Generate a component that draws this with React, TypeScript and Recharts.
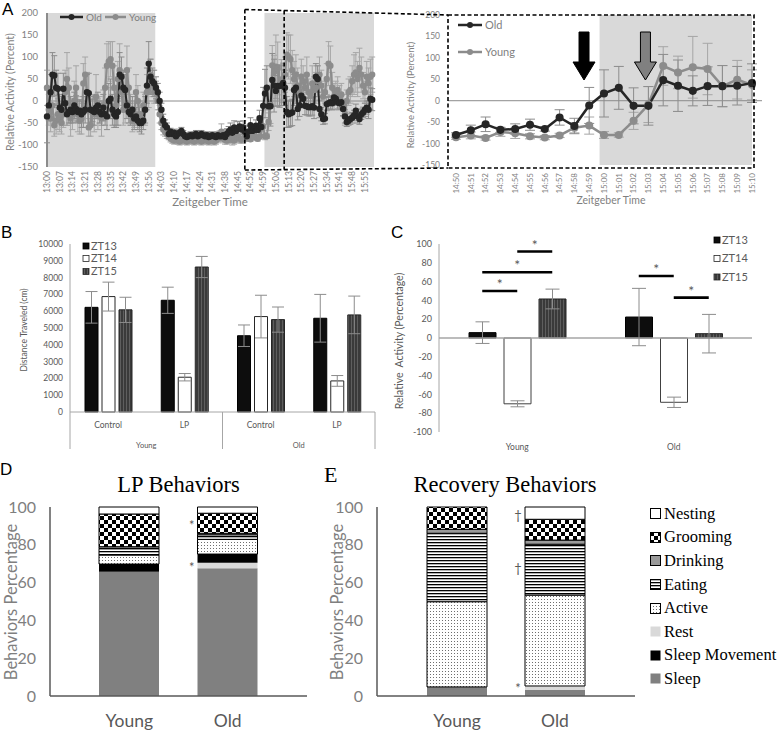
import React from "react";
import {
  LineChart,
  Line,
  BarChart,
  Bar,
  XAxis,
  YAxis,
  ErrorBar,
  ReferenceArea,
  ReferenceLine,
} from "recharts";

// ---------- A: relative activity, one point per minute from 13:00 ----------
const START_HOUR = 13;
const OLD_ACT = [
  -35, -10, 20, 60, 58, 30, 28, -15, -20, 28,
  -5, -30, -25, -20, -25, -10, -18, -25, -22, -30,
  -25, -20, 20, 18, -20, -22, -25, -15, -10, -25,
  -30, -15, -30, -35, 0, 5, -20, -30, -35, -25,
  60, 55, 30, 25, -10, -25, -30, -20, -40, -35,
  -45, -50, -50, -45, -20, 35, 85, 55, 45, 40,
  30, 20, 0, -20, -45, -55, -60, -75, -70, -75,
  -72, -80, -75, -72, -68, -75, -80, -82, -80, -78,
  -80, -78, -75, -80, -78, -75, -78, -80, -78, -82,
  -80, -78, -80, -82, -78, -80, -80, -78, -82, -75,
  -70, -65, -72, -60, -68, -62, -58, -65, -60, -70,
  -80, -69, -55, -68, -66, -56, -66, -39, -59, -11,
  17, 30, -12, -12, 48, 35, 23, 34, 34, 35,
  41, 30, -25, -30, -28, -26, 25, 30, -18, -10,
  12, 5, -11, -12, -14, -14, -12, -15, 55, 50,
  -18, -30, -41, -40, -7, -5, -3, -5, 8, 5,
  -3, -5, -3, -18, -35, -48, -45, -41, -38, -33,
  -22, -35, -41, -30, -26, -20, -15, -20, 5, 3,
];
const YOUNG_ACT = [
  30, -20, -40, -10, -55, -45, -30, -40, -50, -30,
  20, 50, 30, -40, -30, 0, 30, -30, -45, -40,
  40, 60, 20, -60, -55, -20, -30, 10, -30, -20,
  -40, -10, 30, 80, 90, 95, 80, 30, -10, 50,
  70, 20, -20, -10, 70, 30, -20, -45, -30, 20,
  0, -30, -40, -10, -20, 20, 30, 60, 40, 20,
  20, 0, -30, -50, -65, -70, -75, -80, -85, -88,
  -90, -88, -90, -92, -90, -88, -90, -92, -90, -88,
  -90, -92, -90, -88, -90, -92, -90, -88, -90, -92,
  -88, -90, -92, -90, -85, -80, -70, -80, -88, -90,
  -88, -85, -88, -90, -85, -80, -85, -88, -85, -82,
  -85, -81, -87, -73, -76, -83, -86, -81, -63, -58,
  -80, -80, -47, -9, 81, 66, 78, 74, 34, 49,
  37, 60, 105, 100, 95, 70, 50, 60, 35, 20,
  55, 45, 30, 60, 20, 15, 40, 25, 30, 45,
  60, 35, 10, 20, 50, 85, 80, 30, 10, 20,
  25, 10, 15, -10, -30, 0, 20, 25, 45, 60,
  65, 50, 75, 60, 35, 20, 55, 40, 55, 60,
];
const OLD_ERR = [
  60, 35, 40, 50, 45, 40, 35, 30, 30, 35,
  30, 25, 25, 30, 25, 30, 30, 25, 25, 30,
  35, 30, 40, 45, 30, 25, 30, 25, 30, 25,
  25, 30, 25, 30, 40, 45, 35, 30, 25, 30,
  50, 45, 40, 35, 30, 25, 25, 30, 25, 20,
  20, 20, 25, 20, 30, 40, 50, 40, 30, 30,
  25, 20, 20, 15, 15, 12, 10, 10, 8, 8,
  8, 8, 8, 8, 8, 8, 8, 8, 8, 8,
  8, 8, 8, 8, 8, 8, 8, 8, 8, 8,
  8, 8, 8, 8, 8, 8, 10, 10, 10, 12,
  12, 15, 12, 15, 12, 15, 12, 12, 15, 15,
  5, 12, 17, 6, 12, 13, 5, 18, 18, 42,
  55, 50, 42, 45, 60, 60, 35, 45, 48, 45,
  45, 40, 35, 30, 30, 30, 35, 35, 25, 25,
  25, 20, 20, 20, 20, 20, 20, 25, 30, 30,
  20, 15, 12, 12, 15, 15, 15, 15, 15, 15,
  15, 15, 15, 15, 15, 10, 10, 12, 12, 12,
  15, 15, 12, 12, 12, 15, 15, 20, 25, 25,
];
const YOUNG_ERR = [
  40, 35, 30, 40, 25, 30, 35, 30, 25, 30,
  50, 60, 45, 40, 35, 45, 50, 40, 30, 35,
  45, 40, 45, 20, 25, 35, 40, 50, 35, 30,
  40, 35, 45, 50, 45, 40, 55, 50, 45, 40,
  60, 45, 35, 40, 55, 45, 35, 25, 30, 40,
  35, 30, 25, 30, 35, 40, 45, 35, 30, 25,
  25, 20, 20, 15, 12, 10, 10, 8, 8, 8,
  8, 8, 8, 8, 8, 8, 8, 8, 8, 8,
  8, 8, 8, 8, 8, 8, 8, 8, 8, 8,
  8, 8, 8, 8, 10, 12, 18, 15, 10, 8,
  8, 10, 12, 8, 10, 12, 10, 8, 10, 10,
  5, 8, 5, 10, 12, 6, 5, 5, 12, 20,
  8, 5, 20, 42, 45, 38, 72, 60, 48, 45,
  35, 40, 50, 50, 55, 45, 40, 45, 40, 30,
  40, 35, 30, 40, 30, 25, 40, 30, 35, 35,
  40, 35, 30, 25, 35, 50, 45, 35, 30, 25,
  30, 25, 25, 25, 25, 25, 30, 30, 35, 45,
  45, 40, 45, 40, 30, 25, 35, 35, 40, 40,
];
const A_TICK_LABELS = [
  "13:00", "13:07", "13:14", "13:21", "13:28", "13:35", "13:42", "13:49", "13:56",
  "14:03", "14:10", "14:17", "14:24", "14:31", "14:38", "14:45", "14:52", "14:59",
  "15:06", "15:13", "15:20", "15:27", "15:34", "15:41", "15:48", "15:55",
];
const INSET_TICK_LABELS = [
  "14:50", "14:51", "14:52", "14:53", "14:54", "14:55", "14:56", "14:57", "14:58", "14:59",
  "15:00", "15:01", "15:02", "15:03", "15:04", "15:05", "15:06", "15:07", "15:08", "15:09", "15:10",
];
const A_Y_TICKS = [-150, -100, -50, 0, 50, 100, 150, 200];
const DARK_PERIODS = [["13:00", "13:59.6"], ["14:59.7", "16:00"]];
const ARROW_TIMES = ["14:58.65", "15:02.8"];

// ---------- B: distance travelled ----------
const B_COND = ["Control", "LP", "Control", "LP"];
const B_AGE = ["Young", "Young", "Old", "Old"];
const B_ZT13 = [6230, 6650, 4540, 5580];
const B_ZT13_ERR = [940, 780, 640, 1420];
const B_ZT14 = [6870, 2070, 5680, 1850];
const B_ZT14_ERR = [860, 220, 1270, 320];
const B_ZT15 = [6080, 8630, 5500, 5780];
const B_ZT15_ERR = [750, 630, 750, 1120];
const B_Y_TICKS = [0, 1000, 2000, 3000, 4000, 5000, 6000, 7000, 8000, 9000, 10000];

// ---------- C: relative activity ----------
const C_AGE = ["Young", "Old"];
const C_ZT13 = [5.7, 22.3];
const C_ZT13_ERR = [11.5, 30.5];
const C_ZT14 = [-70, -68.4];
const C_ZT14_ERR = [3.2, 5.5];
const C_ZT15 = [41.5, 4.6];
const C_ZT15_ERR = [10.5, 20.5];
const C_Y_TICKS = [-100, -80, -60, -40, -20, 0, 20, 40, 60, 80, 100];
// [group, from bar, to bar, height]
const C_SIG = [
  [0, 0, 1, 50],
  [0, 0, 2, 70],
  [0, 1, 2, 92],
  [1, 0, 1, 66],
  [1, 1, 2, 43],
];

// ---------- D / E: behaviours (stack order bottom -> top) ----------
const BEHAVIORS = ["Sleep", "Rest", "Sleep Movement", "Active", "Eating", "Drinking", "Grooming", "Nesting"];
const LEGEND_ORDER = ["Nesting", "Grooming", "Drinking", "Eating", "Active", "Rest", "Sleep Movement", "Sleep"];
const AGES = ["Young", "Old"];
const LP_YOUNG = [65.8, 0, 4.0, 4.8, 3.4, 1.0, 17.3, 3.7];
const LP_OLD = [67.6, 2.9, 4.6, 7.8, 2.4, 0.8, 10.6, 3.3];
const REC_YOUNG = [4.8, 0, 0, 45.1, 36.2, 2.1, 11.8, 0];
const REC_OLD = [3.2, 2.1, 0, 48.1, 26.9, 2.2, 11.0, 6.5];
const PCT_TICKS = [0, 20, 40, 60, 80, 100];
const LP_MARKS = [["*", 91], ["*", 69]];
const REC_MARKS = [["\u2020", 96.5], ["\u2020", 68], ["*", 4.5]];

const FONT = "Lato, 'Liberation Sans', sans-serif";
const SERIF = "'Liberation Serif', 'Times New Roman', serif";
const GREY_TXT = "#7f7f7f";
const DARK_TXT = "#595959";

const BEH_STYLE: Record<string, { fill: string; stroke?: string }> = {
  Sleep: { fill: "#808080" },
  Rest: { fill: "#d9d9d9" },
  "Sleep Movement": { fill: "#000000" },
  Active: { fill: "url(#pDots)", stroke: "#000" },
  Eating: { fill: "url(#pHStripe)", stroke: "#000" },
  Drinking: { fill: "#9a9a9a", stroke: "#000" },
  Grooming: { fill: "url(#pChecker)", stroke: "#000" },
  Nesting: { fill: "#ffffff", stroke: "#000" },
};

function toMin(label: string) {
  const [h, m] = label.split(":");
  return (Number(h) - START_HOUR) * 60 + Number(m);
}
function minLabel(m: number) {
  const h = START_HOUR + Math.floor(m / 60);
  return `${h}:${String(Math.round(m % 60)).padStart(2, "0")}`;
}

const activity = OLD_ACT.map((v, m) => ({
  m,
  old: v,
  young: YOUNG_ACT[m],
  oldErr: OLD_ERR[m],
  youngErr: YOUNG_ERR[m],
}));
const INSET_FROM = toMin(INSET_TICK_LABELS[0]);
const INSET_TO = toMin(INSET_TICK_LABELS[INSET_TICK_LABELS.length - 1]);
const insetData = activity.filter((d) => d.m >= INSET_FROM && d.m <= INSET_TO);

const distData = B_COND.map((c, i) => ({
  cond: c,
  age: B_AGE[i],
  zt13: B_ZT13[i],
  zt13e: B_ZT13_ERR[i],
  zt14: B_ZT14[i],
  zt14e: B_ZT14_ERR[i],
  zt15: B_ZT15[i],
  zt15e: B_ZT15_ERR[i],
}));
const relData = C_AGE.map((a, i) => ({
  age: a,
  zt13: C_ZT13[i],
  zt13e: C_ZT13_ERR[i],
  zt14: C_ZT14[i],
  zt14e: C_ZT14_ERR[i],
  zt15: C_ZT15[i],
  zt15e: C_ZT15_ERR[i],
}));
const stackRows = (young: number[], old: number[]) =>
  AGES.map((age, r) => {
    const vals = r === 0 ? young : old;
    const row: Record<string, any> = { age };
    BEHAVIORS.forEach((b, i) => (row[b] = vals[i]));
    return row;
  });
const lpData = stackRows(LP_YOUNG, LP_OLD);
const recData = stackRows(REC_YOUNG, REC_OLD);

// layout of the plots (px on the page), shared by charts and annotations
const A_L = { x: 0, y: 0, w: 390, h: 215, left: 47, right: 374, top: 13, bottom: 167 };
const IN = { x: 380, y: 0, w: 398, h: 215, left: 448, right: 754, top: 15, bottom: 165, padL: 8, padR: 2 };
const PB = { x: 0, y: 215, w: 380, h: 235, left: 70, right: 375, top: 244, bottom: 412 };
const PC = { x: 380, y: 215, w: 398, h: 240, left: 439, right: 752, top: 244, bottom: 432, bar: 27, gap: 8 };
const PD = { x: 0, y: 440, w: 320, h: 291, left: 50, right: 307, top: 507, bottom: 696, pad: 30 };
const PE = { x: 325, y: 440, w: 330, h: 291, left: 377, right: 635, top: 507, bottom: 696, pad: 31 };

const xA = (m: number) => A_L.left + (m / 180) * (A_L.right - A_L.left);
const xIn = (m: number) =>
  IN.left + IN.padL + ((m - INSET_FROM) / (INSET_TO - INSET_FROM)) * (IN.right - IN.padR - IN.left - IN.padL);
const yIn = (v: number) => IN.top + ((200 - v) / 350) * (IN.bottom - IN.top);
const yC = (v: number) => PC.top + ((100 - v) / 200) * (PC.bottom - PC.top);
const xCbar = (g: number, i: number) => {
  const band = (PC.right - PC.left) / 2;
  return PC.left + (g + 0.5) * band + (i - 1) * (PC.bar + PC.gap);
};
const stackX = (p: typeof PD, g: number) => {
  const band = (p.right - p.left - 2 * p.pad) / 2;
  return p.left + p.pad + (g + 0.5) * band;
};
const stackY = (p: typeof PD, v: number) => p.bottom - (v / 100) * (p.bottom - p.top);

const RotTick = (props: any) => {
  const { x, y, payload, size } = props;
  return (
    <text
      x={x}
      y={y}
      transform={`rotate(-90 ${x} ${y})`}
      textAnchor="end"
      dy="0.35em"
      fontSize={size}
      fill={GREY_TXT}
    >
      {minLabel(payload.value)}
    </text>
  );
};

function Patterns() {
  return (
    <svg width={0} height={0} style={{ position: "absolute" }}>
      <defs>
        <pattern id="pChecker" width="8" height="8" patternUnits="userSpaceOnUse">
          <rect width="8" height="8" fill="#fff" />
          <rect width="4" height="4" fill="#000" />
          <rect x="4" y="4" width="4" height="4" fill="#000" />
        </pattern>
        <pattern id="pHStripe" width="4" height="3" patternUnits="userSpaceOnUse">
          <rect width="4" height="3" fill="#fff" />
          <rect width="4" height="1.3" fill="#000" />
        </pattern>
        <pattern id="pDots" width="3" height="3" patternUnits="userSpaceOnUse">
          <rect width="3" height="3" fill="#fff" />
          <rect width="1" height="1" fill="#6e6e6e" />
        </pattern>
        <pattern id="pVStripe" width="3" height="4" patternUnits="userSpaceOnUse">
          <rect width="3" height="4" fill="#3a3a3a" />
          <rect width="1" height="4" fill="#5e5e5e" />
        </pattern>
      </defs>
    </svg>
  );
}

const box = (p: { x: number; y: number }): React.CSSProperties => ({
  position: "absolute",
  left: p.x,
  top: p.y,
});

function ActivityPanel() {
  return (
    <div style={box(A_L)}>
      <LineChart
        width={A_L.w}
        height={A_L.h}
        data={activity}
        margin={{ top: A_L.top, right: A_L.w - A_L.right, left: 0, bottom: 0 }}
      >
        {DARK_PERIODS.map(([a, b]) => (
          <ReferenceArea key={a} x1={toMin(a)} x2={toMin(b)} fill="#d9d9d9" fillOpacity={1} stroke="none" />
        ))}
        <ReferenceLine y={0} stroke="#8c8c8c" strokeWidth={1} />
        <XAxis
          type="number"
          dataKey="m"
          domain={[0, 180]}
          ticks={A_TICK_LABELS.map(toMin)}
          interval={0}
          height={A_L.h - A_L.bottom}
          tickSize={0}
          tickMargin={4}
          axisLine={false}
          tick={(p: any) => <RotTick {...p} size={8.6} />}
        />
        <YAxis
          domain={[-150, 200]}
          ticks={A_Y_TICKS}
          width={A_L.left}
          tickSize={0}
          tickMargin={9}
          axisLine={{ stroke: "#8c8c8c", strokeWidth: 2 }}
          tick={{ fontSize: 9.5, fill: GREY_TXT }}
        />
        <Line
          dataKey="young"
          stroke="#8c8c8c"
          strokeWidth={2}
          dot={{ r: 2.2, fill: "#8c8c8c", stroke: "#8c8c8c" }}
          isAnimationActive={false}
        >
          <ErrorBar dataKey="youngErr" width={3} stroke="#a6a6a6" strokeWidth={1} direction="y" />
        </Line>
        <Line
          dataKey="old"
          stroke="#262626"
          strokeWidth={2}
          dot={{ r: 2.2, fill: "#262626", stroke: "#262626" }}
          isAnimationActive={false}
        >
          <ErrorBar dataKey="oldErr" width={3} stroke="#8c8c8c" strokeWidth={1} direction="y" />
        </Line>
      </LineChart>
    </div>
  );
}

function InsetPanel() {
  return (
    <div style={box(IN)}>
      <LineChart
        width={IN.w}
        height={IN.h}
        data={insetData}
        margin={{ top: IN.top, right: IN.x + IN.w - IN.right, left: 0, bottom: 0 }}
      >
        <ReferenceArea x1={toMin(DARK_PERIODS[1][0])} x2={INSET_TO} fill="#d9d9d9" fillOpacity={1} stroke="none" />
        <ReferenceLine y={0} stroke="#8c8c8c" strokeWidth={1} />
        <XAxis
          type="number"
          dataKey="m"
          domain={[INSET_FROM, INSET_TO]}
          ticks={INSET_TICK_LABELS.map(toMin)}
          interval={0}
          padding={{ left: IN.padL, right: IN.padR }}
          height={IN.h - IN.bottom}
          tickSize={0}
          tickMargin={8}
          axisLine={false}
          tick={(p: any) => <RotTick {...p} size={8} />}
        />
        <YAxis
          domain={[-150, 200]}
          ticks={A_Y_TICKS}
          width={IN.left - IN.x}
          tickSize={0}
          tickMargin={8}
          axisLine={false}
          tick={{ fontSize: 8.5, fill: GREY_TXT }}
        />
        <Line
          dataKey="young"
          stroke="#8c8c8c"
          strokeWidth={2.5}
          dot={{ r: 2.8, fill: "#8c8c8c", stroke: "#8c8c8c" }}
          isAnimationActive={false}
        >
          <ErrorBar dataKey="youngErr" width={5} stroke="#a6a6a6" strokeWidth={1} direction="y" />
        </Line>
        <Line
          dataKey="old"
          stroke="#262626"
          strokeWidth={2.5}
          dot={{ r: 2.8, fill: "#262626", stroke: "#262626" }}
          isAnimationActive={false}
        >
          <ErrorBar dataKey="oldErr" width={5} stroke="#8c8c8c" strokeWidth={1} direction="y" />
        </Line>
      </LineChart>
    </div>
  );
}

function DistancePanel() {
  return (
    <div style={box(PB)}>
      <BarChart
        width={PB.w}
        height={PB.h}
        data={distData}
        margin={{ top: PB.top - PB.y, right: PB.w - PB.right, left: 0, bottom: 0 }}
        barSize={13}
        barGap={4}
      >
        <XAxis
          dataKey="cond"
          height={PB.y + PB.h - PB.bottom}
          tickSize={0}
          tickMargin={10}
          axisLine={{ stroke: "#a6a6a6" }}
          tick={{ fontSize: 8.5, fill: DARK_TXT }}
        />
        <YAxis
          domain={[0, 10000]}
          ticks={B_Y_TICKS}
          width={PB.left}
          tickSize={0}
          tickMargin={7}
          axisLine={{ stroke: "#a6a6a6" }}
          tick={{ fontSize: 8.5, fill: DARK_TXT }}
        />
        <Bar dataKey="zt13" fill="#0d0d0d" stroke="#000" isAnimationActive={false}>
          <ErrorBar dataKey="zt13e" width={6} stroke="#8c8c8c" strokeWidth={1} />
        </Bar>
        <Bar dataKey="zt14" fill="#ffffff" stroke="#262626" isAnimationActive={false}>
          <ErrorBar dataKey="zt14e" width={6} stroke="#8c8c8c" strokeWidth={1} />
        </Bar>
        <Bar dataKey="zt15" fill="url(#pVStripe)" stroke="#262626" isAnimationActive={false}>
          <ErrorBar dataKey="zt15e" width={6} stroke="#8c8c8c" strokeWidth={1} />
        </Bar>
      </BarChart>
    </div>
  );
}

function RelativePanel() {
  return (
    <div style={box(PC)}>
      <BarChart
        width={PC.w}
        height={PC.h}
        data={relData}
        margin={{ top: PC.top - PC.y, right: PC.x + PC.w - PC.right, left: 0, bottom: 0 }}
        barSize={PC.bar}
        barGap={PC.gap}
      >
        <ReferenceLine y={0} stroke="#a6a6a6" strokeWidth={1.5} />
        <XAxis
          dataKey="age"
          height={PC.y + PC.h - PC.bottom}
          tickSize={0}
          tickMargin={12}
          axisLine={false}
          tick={{ fontSize: 8.5, fill: DARK_TXT }}
        />
        <YAxis
          domain={[-100, 100]}
          ticks={C_Y_TICKS}
          width={PC.left - PC.x}
          tickSize={0}
          tickMargin={7}
          axisLine={{ stroke: "#a6a6a6" }}
          tick={{ fontSize: 9, fill: DARK_TXT }}
        />
        <Bar dataKey="zt13" fill="#0d0d0d" stroke="#000" isAnimationActive={false}>
          <ErrorBar dataKey="zt13e" width={7} stroke="#8c8c8c" strokeWidth={1} />
        </Bar>
        <Bar dataKey="zt14" fill="#ffffff" stroke="#404040" isAnimationActive={false}>
          <ErrorBar dataKey="zt14e" width={7} stroke="#8c8c8c" strokeWidth={1} />
        </Bar>
        <Bar dataKey="zt15" fill="url(#pVStripe)" stroke="#262626" isAnimationActive={false}>
          <ErrorBar dataKey="zt15e" width={7} stroke="#8c8c8c" strokeWidth={1} />
        </Bar>
      </BarChart>
    </div>
  );
}

function StackPanel({ p, data }: { p: typeof PD; data: any[] }) {
  return (
    <div style={box(p)}>
      <BarChart
        width={p.w}
        height={p.h}
        data={data}
        margin={{ top: p.top - p.y, right: p.x + p.w - p.right, left: 0, bottom: 0 }}
        barSize={60}
      >
        <XAxis
          dataKey="age"
          height={p.y + p.h - p.bottom}
          padding={{ left: p.pad, right: p.pad }}
          tickSize={0}
          tickMargin={19}
          axisLine={{ stroke: "#595959", strokeWidth: 1.5 }}
          tick={{ fontSize: 17.5, fill: DARK_TXT }}
        />
        <YAxis
          domain={[0, 100]}
          ticks={PCT_TICKS}
          width={p.left - p.x}
          tickSize={0}
          tickMargin={14}
          axisLine={{ stroke: "#595959", strokeWidth: 1.5 }}
          tick={{ fontSize: 16, fill: GREY_TXT }}
        />
        {BEHAVIORS.map((b) => (
          <Bar
            key={b}
            dataKey={b}
            stackId="s"
            fill={BEH_STYLE[b].fill}
            stroke={BEH_STYLE[b].stroke || "none"}
            strokeWidth={1}
            isAnimationActive={false}
          />
        ))}
      </BarChart>
    </div>
  );
}

function Swatch({ b }: { b: string }) {
  const st = BEH_STYLE[b];
  return (
    <svg width={11} height={11} style={{ marginRight: 3, flex: "none" }}>
      <rect x={0.5} y={0.5} width={10} height={10} fill={st.fill} stroke={st.stroke || "none"} />
    </svg>
  );
}

function BehaviorLegend() {
  return (
    <div style={{ position: "absolute", left: 650, top: 502, fontFamily: SERIF, fontSize: 16.5 }}>
      {LEGEND_ORDER.map((b) => (
        <div key={b} style={{ display: "flex", alignItems: "center", height: 23.6, whiteSpace: "nowrap" }}>
          <Swatch b={b} />
          <span>{b}</span>
        </div>
      ))}
    </div>
  );
}

function Annotations() {
  const dash = { stroke: "#000", strokeWidth: 1.6, strokeDasharray: "4 2.5", fill: "none" };
  const zx0 = xA(INSET_FROM) - 2;
  const zx1 = xA(INSET_TO) + 1;
  const legendRow = (x0: number, x1: number, y: number, color: string, label: string, size: number) => (
    <g key={label + y}>
      <line x1={x0} x2={x1} y1={y} y2={y} stroke={color} strokeWidth={2.5} />
      <circle cx={(x0 + x1) / 2} cy={y} r={3} fill={color} />
      <text x={x1 + 3} y={y + size * 0.35} fontSize={size} fill={GREY_TXT}>
        {label}
      </text>
    </g>
  );
  const dOld = stackX(PD, 1) - 30 - 6;
  const eOld = stackX(PE, 1) - 30 - 7;
  return (
    <svg width={778} height={731} style={{ position: "absolute", left: 0, top: 0, pointerEvents: "none" }}>
      {/* panel letters */}
      <g fontFamily="'Liberation Sans', sans-serif" fontSize={17} fill="#000">
        <text x={2} y={15}>A</text>
        <text x={1} y={238}>B</text>
        <text x={391} y={238}>C</text>
        <text x={0} y={475}>D</text>
      </g>
      <text x={324} y={482} fontFamily={SERIF} fontSize={22}>E</text>

      {/* A: axis titles and legends */}
      <text transform="translate(14 92) rotate(-90)" textAnchor="middle" fontSize={10.5} fill={GREY_TXT}>
        Relative Activity (Percent)
      </text>
      <text x={210} y={206} textAnchor="middle" fontSize={11.5} fill={GREY_TXT}>Zeitgeber Time</text>
      {legendRow(60, 83, 17, "#262626", "Old", 10)}
      {legendRow(105, 126, 17, "#8c8c8c", "Young", 10)}
      <text transform="translate(414 95) rotate(-90)" textAnchor="middle" fontSize={9.5} fill={GREY_TXT}>
        Relative Activity (Percent)
      </text>
      <text x={611} y={204} textAnchor="middle" fontSize={10.5} fill={GREY_TXT}>Zeitgeber Time</text>
      {legendRow(458, 482, 25, "#262626", "Old", 11)}
      {legendRow(458, 482, 52, "#8c8c8c", "Young", 11)}
      {/* inset zero line runs a little past the frame, as in the source */}
      <line x1={IN.right - IN.padR} x2={762} y1={yIn(0)} y2={yIn(0)} stroke="#8c8c8c" strokeWidth={1} />

      {/* A: zoom frame */}
      <polyline points={`${zx0},9.5 ${IN.left},${IN.top}`} {...dash} />
      <polyline points={`${zx0},170 ${IN.left},168`} {...dash} />
      <line x1={zx0} x2={zx0} y1={9.5} y2={170} {...dash} />
      <line x1={zx1} x2={zx1} y1={10.5} y2={169.5} {...dash} />
      <rect x={IN.left} y={IN.top} width={IN.right - IN.left} height={168 - IN.top} {...dash} />

      {/* A: arrows */}
      {ARROW_TIMES.map((t, i) => {
        const cx = xIn(toMin(t));
        return (
          <path
            key={t}
            d={`M${cx - 5} 32 H${cx + 5} V62 H${cx + 11} L${cx} 80 L${cx - 11} 62 H${cx - 5} Z`}
            fill={i === 0 ? "#000" : "#808080"}
            stroke="#000"
            strokeWidth={1}
          />
        );
      })}

      {/* B: axis title, legend, group axis */}
      <text transform="translate(27 330) rotate(-90)" textAnchor="middle" fontSize={8.5} fill={DARK_TXT}>
        Distance Traveled (cm)
      </text>
      {[0, 2, 4].map((k) => {
        const x = PB.left + (k * (PB.right - PB.left)) / 4;
        return <line key={k} x1={x} x2={x} y1={PB.bottom} y2={449} stroke="#a6a6a6" />;
      })}
      {["Young", "Old"].map((a, k) => (
        <text
          key={a}
          x={PB.left + ((2 * k + 1) * (PB.right - PB.left)) / 4}
          y={448}
          textAnchor="middle"
          fontSize={7.5}
          fill={DARK_TXT}
        >
          {a}
        </text>
      ))}
      {[
        ["ZT13", "#0d0d0d", "#000", 246],
        ["ZT14", "#fff", "#262626", 258.5],
        ["ZT15", "url(#pVStripe)", "#262626", 271.5],
      ].map(([t, f, s, y]) => (
        <g key={String(t)}>
          <rect x={83} y={(y as number) - 3} width={6} height={6} fill={f as string} stroke={s as string} strokeWidth={0.8} />
          <text x={91} y={(y as number) + 3.8} fontSize={11} fill={DARK_TXT}>{t}</text>
        </g>
      ))}

      {/* C: axis title, legend, significance */}
      <text transform="translate(403 341) rotate(-90)" textAnchor="middle" fontSize={10.5} fill={DARK_TXT}>
        {"Relative\u00a0 Activity (Percentage)"}
      </text>
      {[
        ["ZT13", "#0d0d0d", "#000", 240],
        ["ZT14", "#fff", "#262626", 258.5],
        ["ZT15", "url(#pVStripe)", "#262626", 277],
      ].map(([t, f, s, y]) => (
        <g key={"c" + t}>
          <rect x={714} y={(y as number) - 3} width={6} height={6} fill={f as string} stroke={s as string} strokeWidth={0.8} />
          <text x={722} y={(y as number) + 3.8} fontSize={11} fill={DARK_TXT}>{t}</text>
        </g>
      ))}
      {C_SIG.map(([g, a, b, v], i) => {
        const x1 = xCbar(g, a);
        const x2 = xCbar(g, b);
        const y = yC(v);
        return (
          <g key={i}>
            <line x1={x1} x2={x2} y1={y} y2={y} stroke="#000" strokeWidth={2.6} />
            <text x={(x1 + x2) / 2} y={y - 2} textAnchor="middle" fontSize={14} fill={DARK_TXT}>*</text>
          </g>
        );
      })}

      {/* D / E: titles, axis titles, marks */}
      <text x={(stackX(PD, 0) + stackX(PD, 1)) / 2} y={492} textAnchor="middle" fontFamily={SERIF} fontSize={22.5}>
        LP Behaviors
      </text>
      <text x={(stackX(PE, 0) + stackX(PE, 1)) / 2 - 1} y={492} textAnchor="middle" fontFamily={SERIF} fontSize={22.5}>
        Recovery Behaviors
      </text>
      <text transform="translate(16.5 602) rotate(-90)" textAnchor="middle" fontSize={16.5} fill={GREY_TXT}>
        Behaviors Percentage
      </text>
      <text transform="translate(343 602) rotate(-90)" textAnchor="middle" fontSize={16.5} fill={GREY_TXT}>
        Behaviors Percentage
      </text>
      {LP_MARKS.map(([s, v], i) => (
        <text key={"d" + i} x={dOld} y={stackY(PD, v as number) + 6} textAnchor="middle" fontSize={13} fill={DARK_TXT}>
          {s}
        </text>
      ))}
      {REC_MARKS.map(([s, v], i) => (
        <text key={"e" + i} x={eOld} y={stackY(PE, v as number) + 6} textAnchor="middle" fontSize={13} fill={DARK_TXT}>
          {s}
        </text>
      ))}
    </svg>
  );
}

export default function App() {
  return (
    <div
      style={{
        position: "absolute",
        left: 0,
        top: 0,
        width: 778,
        height: 731,
        background: "#fff",
        fontFamily: FONT,
        overflow: "hidden",
      }}
    >
      <Patterns />
      <ActivityPanel />
      <InsetPanel />
      <DistancePanel />
      <RelativePanel />
      <StackPanel p={PD} data={lpData} />
      <StackPanel p={PE} data={recData} />
      <BehaviorLegend />
      <Annotations />
    </div>
  );
}
